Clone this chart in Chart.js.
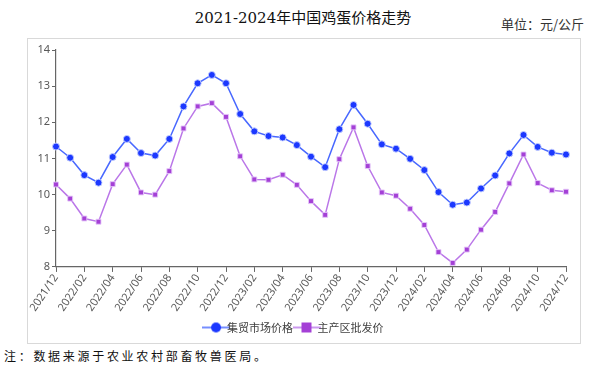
<!DOCTYPE html>
<html>
<head>
<meta charset="utf-8">
<script src="https://cdn.jsdelivr.net/npm/chart.js@4"></script>
<style>
  body { margin: 0; background: #fff; width: 606px; height: 369px; position: relative; overflow: hidden; }
  #title { position: absolute; left: 0; width: 606px; top: 6px; text-align: center;
    font: 15px "DejaVu Serif", "Noto Sans CJK SC", serif; color: #111; }
  #unit { position: absolute; right: 22px; top: 14px; font: 13px "Noto Sans CJK SC", sans-serif; color: #333; }
  #box { position: absolute; left: 27px; top: 38px; width: 552px; height: 304px; border: 1px solid #d9d9d9; }
  #note { position: absolute; left: 4px; top: 347px; font: 12px "Noto Sans CJK SC", sans-serif;
    letter-spacing: 2.7px; color: #111; }
</style>
</head>
<body>
<div id="title">2021-2024年中国鸡蛋价格走势</div>
<div id="unit">单位：元/公斤</div>
<div id="box"><canvas id="eggChart" width="552" height="304"></canvas></div>
<div id="note">注：数据来源于农业农村部畜牧兽医局。</div>
<script>
  // Months from 2021/12 to 2024/12
  var months = [
    '2021/12', '2022/01', '2022/02', '2022/03', '2022/04', '2022/05', '2022/06', '2022/07', '2022/08',
    '2022/09', '2022/10', '2022/11', '2022/12', '2023/01', '2023/02', '2023/03', '2023/04', '2023/05',
    '2023/06', '2023/07', '2023/08', '2023/09', '2023/10', '2023/11', '2023/12', '2024/01', '2024/02',
    '2024/03', '2024/04', '2024/05', '2024/06', '2024/07', '2024/08', '2024/09', '2024/10', '2024/11',
    '2024/12'
  ];

  // 集贸市场价格 (blue)
  var marketPrice = [
    11.33, 11.02, 10.54, 10.33, 11.04, 11.54, 11.15, 11.08, 11.54, 12.44, 13.08, 13.31,
    13.08, 12.23, 11.75, 11.62, 11.58, 11.37, 11.05, 10.76, 11.81, 12.48, 11.96, 11.39,
    11.27, 10.99, 10.68, 10.07, 9.72, 9.78, 10.17, 10.53, 11.14, 11.65, 11.32, 11.16, 11.11
  ];

  // 主产区批发价 (purple)
  var wholesalePrice = [
    10.28, 9.89, 9.34, 9.25, 10.29, 10.83, 10.06, 10.00, 10.65, 11.83, 12.44, 12.53,
    12.15, 11.06, 10.42, 10.41, 10.55, 10.27, 9.82, 9.44, 10.98, 11.86, 10.79, 10.06,
    9.97, 9.61, 9.16, 8.41, 8.11, 8.48, 9.03, 9.52, 10.31, 11.11, 10.32, 10.12, 10.08
  ];

  var yTicks = [8, 9, 10, 11, 12, 13, 14];

  var blueLine = 'rgb(72, 104, 255)';
  var bluePoint = 'rgb(28, 56, 255)';
  var purpleLine = 'rgb(186, 118, 232)';
  var purplePoint = 'rgb(164, 64, 214)';

  // Legend icon: short line with the marker in the middle
  function legendIcon(lineColor, pointColor, square) {
    var c = document.createElement('canvas');
    c.width = 28; c.height = 12;
    var g = c.getContext('2d');
    g.strokeStyle = lineColor;
    g.lineWidth = 1.5;
    g.beginPath(); g.moveTo(0, 6); g.lineTo(28, 6); g.stroke();
    g.fillStyle = pointColor;
    if (square) {
      g.fillRect(9, 1, 10, 10);
    } else {
      g.beginPath(); g.arc(14, 6, 5, 0, Math.PI * 2); g.fill();
    }
    return c;
  }

  var icons = [
    legendIcon(blueLine, bluePoint, false),
    legendIcon(purpleLine, purplePoint, true)
  ];

  var tickFont = { family: '"Noto Sans", "Noto Sans CJK SC", sans-serif', size: 11 };

  var ctx = document.getElementById('eggChart').getContext('2d');
  var eggChart = new Chart(ctx, {
    type: 'line',
    data: {
      labels: months,
      datasets: [
        {
          label: '集贸市场价格',
          data: marketPrice,
          borderColor: blueLine,
          backgroundColor: bluePoint,
          pointBackgroundColor: bluePoint,
          pointBorderColor: 'rgba(200, 210, 255, 0.9)',
          pointBorderWidth: 1,
          pointStyle: 'circle',
          pointRadius: 3.5,
          borderWidth: 1.5,
          tension: 0
        },
        {
          label: '主产区批发价',
          data: wholesalePrice,
          borderColor: purpleLine,
          backgroundColor: purplePoint,
          pointBackgroundColor: purplePoint,
          pointBorderColor: 'rgba(230, 200, 250, 0.9)',
          pointBorderWidth: 1,
          pointStyle: 'rect',
          pointRadius: 3.5,
          borderWidth: 1.5,
          tension: 0
        }
      ]
    },
    options: {
      responsive: false,
      animation: false,
      layout: { padding: { top: 11, right: 14, left: 0, bottom: 0 } },
      scales: {
        x: {
          grid: { display: true, drawOnChartArea: false, color: '#666', tickLength: 5 },
          border: { color: '#666', width: 1.2 },
          ticks: {
            autoSkip: false,
            minRotation: 56,
            maxRotation: 56,
            padding: 0,
            color: '#595959',
            font: tickFont,
            callback: function (value, index) {
              return index % 2 === 0 ? months[index] : null;
            }
          }
        },
        y: {
          min: 8,
          max: 14,
          afterBuildTicks: function (scale) {
            scale.ticks = yTicks.map(function (v) { return { value: v }; });
          },
          afterFit: function (scale) { scale.width = 28; },
          grid: { display: true, drawOnChartArea: false, color: '#666', tickLength: 4 },
          border: { color: '#666', width: 1.2 },
          ticks: { color: '#595959', font: tickFont, padding: 2 }
        }
      },
      plugins: {
        legend: {
          position: 'bottom',
          labels: {
            usePointStyle: true,
            color: '#404040',
            font: { family: '"Noto Sans CJK SC", sans-serif', size: 11 },
            boxHeight: 12,
            padding: 8,
            generateLabels: function (chart) {
              return chart.data.datasets.map(function (ds, i) {
                return {
                  text: ds.label,
                  pointStyle: icons[i],
                  fillStyle: ds.backgroundColor,
                  strokeStyle: ds.borderColor,
                  lineWidth: 0,
                  datasetIndex: i,
                  hidden: !chart.isDatasetVisible(i),
                  fontColor: '#404040'
                };
              });
            }
          }
        },
        tooltip: { enabled: false }
      }
    }
  });
</script>
</body>
</html>
